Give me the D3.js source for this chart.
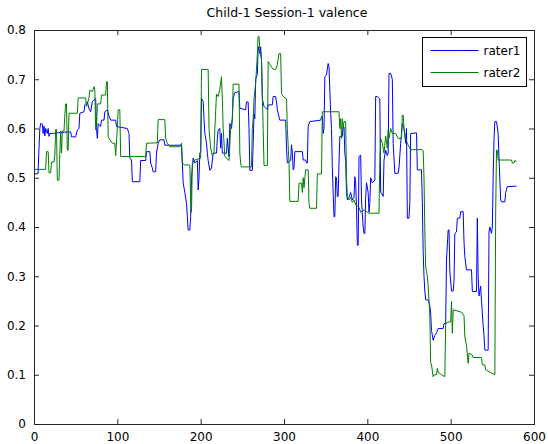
<!DOCTYPE html>
<html>
<head>
<meta charset="utf-8">
<script src="https://cdn.jsdelivr.net/npm/d3@7/dist/d3.min.js"></script>
<style>
  body { margin: 0; background: #fff; }
  text { font-family: "DejaVu Sans", sans-serif; fill: #000; }
</style>
</head>
<body>
<svg id="chart" width="548" height="444"></svg>
<script>
// chart data ([frame, valence] breakpoints)
const title = 'Child-1 Session-1 valence'
const seriesNames = ['rater1', 'rater2']
const seriesColors = ['#0000ff', '#008000']
const xTicks = [0, 100, 200, 300, 400, 500, 600]
const yTicks = [0, 0.1, 0.2, 0.3, 0.4, 0.5, 0.6, 0.7, 0.8]

const rater1 = [
  [0, 0.508], [4.8, 0.508], [6, 0.56], [7, 0.6], [8, 0.61], [10, 0.609], [11, 0.59], [12, 0.605], [13, 0.585], [14, 0.6],
  [16, 0.59], [17, 0.6], [18, 0.584], [19, 0.59], [22, 0.59], [40, 0.593], [44, 0.593], [45, 0.583], [50, 0.583], [52, 0.597],
  [54, 0.6], [55, 0.631], [60, 0.634], [61, 0.648], [64, 0.654], [66, 0.64], [68, 0.634], [70, 0.655], [74, 0.661], [75, 0.6],
  [76, 0.58], [77, 0.61], [80, 0.604], [81, 0.617], [84, 0.617], [85, 0.634], [88, 0.638], [90, 0.625], [92, 0.617], [98, 0.617],
  [99, 0.604], [112, 0.6], [114, 0.59], [115, 0.54], [117, 0.536], [118, 0.492], [127, 0.492], [128, 0.535], [134, 0.535], [135, 0.553],
  [139, 0.553], [140, 0.53], [142, 0.52], [143, 0.512], [146, 0.512], [147, 0.55], [149, 0.57], [151, 0.577], [156, 0.577], [157, 0.566],
  [177, 0.566], [178, 0.53], [179, 0.49], [181, 0.47], [183, 0.448], [184, 0.421], [185, 0.394], [187, 0.394], [188, 0.421], [189, 0.5],
  [190, 0.52], [191, 0.54], [193, 0.53], [196, 0.535], [197, 0.475], [198, 0.5], [199, 0.55], [200, 0.553], [201, 0.661], [203, 0.655],
  [204, 0.62], [205, 0.59], [207, 0.57], [208, 0.55], [209, 0.535], [211, 0.515], [213, 0.52], [215, 0.55], [219, 0.55], [220, 0.58],
  [221, 0.597], [223, 0.6], [224, 0.56], [225, 0.59], [226, 0.55], [231, 0.55], [232, 0.58], [234, 0.543], [235, 0.61], [237, 0.6],
  [238, 0.62], [239, 0.661], [241, 0.673], [246, 0.675], [247, 0.641], [254, 0.638], [255, 0.654], [257, 0.654], [258, 0.6], [259, 0.515],
  [262, 0.515], [263, 0.57], [264, 0.63], [265, 0.62], [266, 0.7], [268, 0.71], [269, 0.766], [271, 0.752], [272, 0.766], [273, 0.74],
  [274, 0.66], [276, 0.645], [280, 0.638], [281, 0.648], [286, 0.648], [287, 0.665], [290, 0.665], [291, 0.654], [292, 0.638], [295, 0.617],
  [302, 0.617], [303, 0.56], [304, 0.53], [308, 0.535], [309, 0.567], [310, 0.55], [311, 0.516], [312, 0.52], [313, 0.553], [322, 0.553],
  [323, 0.536], [326, 0.536], [327, 0.53], [328, 0.53], [329, 0.604], [331, 0.614], [344, 0.617], [345, 0.624], [346, 0.624], [347, 0.59],
  [348, 0.6], [349, 0.705], [351, 0.709], [353, 0.732], [354, 0.725], [356, 0.631], [357, 0.6], [358, 0.52], [359, 0.47], [360, 0.421],
  [361, 0.421], [362, 0.502], [363, 0.5], [364, 0.462], [365, 0.462], [366, 0.53], [367, 0.584], [370, 0.584], [371, 0.603], [372, 0.603],
  [373, 0.55], [374, 0.535], [375, 0.47], [376, 0.455], [378, 0.46], [380, 0.47], [382, 0.455], [384, 0.46], [385, 0.502], [386, 0.49],
  [387, 0.44], [388, 0.363], [389, 0.363], [390, 0.543], [392, 0.546], [393, 0.455], [395, 0.4], [396, 0.387], [397, 0.387], [398, 0.46],
  [399, 0.49], [401, 0.47], [402, 0.43], [403, 0.45], [404, 0.5], [406, 0.49], [409, 0.495], [410, 0.665], [412, 0.665], [415, 0.66],
  [416, 0.47], [417, 0.469], [419, 0.462], [420, 0.536], [422, 0.556], [424, 0.545], [425, 0.55], [426, 0.712], [428, 0.712], [430, 0.7],
  [431, 0.57], [433, 0.509], [437, 0.509], [438, 0.52], [440, 0.57], [442, 0.61], [444, 0.6], [446, 0.57], [447, 0.6], [448, 0.418],
  [450, 0.418], [451, 0.45], [452, 0.59], [459, 0.591], [460, 0.516], [465, 0.516], [466, 0.45], [467, 0.35], [468, 0.3], [469, 0.27],
  [470, 0.252], [473, 0.252], [475, 0.24], [476, 0.225], [477, 0.19], [479, 0.17], [481, 0.18], [483, 0.185], [485, 0.194], [491, 0.194],
  [492, 0.204], [494, 0.204], [495, 0.333], [497, 0.394], [498, 0.394], [499, 0.31], [501, 0.27], [503, 0.27], [504, 0.29], [505, 0.387],
  [507, 0.39], [508, 0.418], [511, 0.418], [512, 0.431], [515, 0.431], [516, 0.37], [517, 0.34], [519, 0.313], [525, 0.313], [526, 0.269],
  [531, 0.269], [532, 0.418], [533, 0.3], [534, 0.26], [536, 0.28], [537, 0.25], [539, 0.2], [540, 0.18], [541, 0.15], [545, 0.15],
  [546, 0.39], [547, 0.4], [549, 0.387], [550, 0.4], [551, 0.5], [552, 0.577], [553, 0.614], [555, 0.614], [557, 0.59], [558, 0.54],
  [560, 0.455], [561, 0.451], [565, 0.451], [566, 0.47], [568, 0.482], [579, 0.483]
]

const rater2 = [
  [0, 0.517], [14, 0.517], [15, 0.553], [17, 0.553], [18, 0.51], [20, 0.51], [21, 0.532], [24, 0.532], [25, 0.546], [26, 0.598],
  [27, 0.598], [28, 0.495], [30, 0.495], [31, 0.55], [32, 0.595], [33, 0.55], [34, 0.595], [36, 0.595], [37, 0.627], [38, 0.65],
  [39, 0.65], [40, 0.556], [41, 0.556], [42, 0.631], [52, 0.631], [53, 0.662], [62, 0.662], [63, 0.645], [64, 0.65], [66, 0.662],
  [67, 0.678], [70, 0.675], [72, 0.685], [73, 0.678], [74, 0.597], [75, 0.6], [76, 0.65], [80, 0.65], [81, 0.668], [86, 0.668],
  [87, 0.695], [88, 0.695], [89, 0.584], [90, 0.58], [94, 0.57], [97, 0.57], [98, 0.545], [100, 0.6], [101, 0.638], [103, 0.638],
  [104, 0.543], [134, 0.543], [135, 0.57], [148, 0.571], [149, 0.618], [157, 0.618], [158, 0.58], [160, 0.57], [163, 0.563], [175, 0.563],
  [177, 0.57], [178, 0.53], [181, 0.526], [187, 0.526], [188, 0.455], [189, 0.43], [190, 0.53], [193, 0.536], [200, 0.54], [201, 0.72],
  [209, 0.72], [210, 0.6], [212, 0.56], [214, 0.545], [216, 0.55], [217, 0.6], [219, 0.67], [221, 0.665], [223, 0.68], [225, 0.705],
  [226, 0.66], [227, 0.6], [229, 0.543], [234, 0.535], [236, 0.6], [238, 0.62], [239, 0.69], [246, 0.69], [247, 0.55], [248, 0.53],
  [249, 0.522], [261, 0.522], [262, 0.6], [263, 0.62], [264, 0.66], [266, 0.692], [268, 0.75], [269, 0.787], [270, 0.787], [271, 0.76],
  [273, 0.74], [275, 0.6], [276, 0.525], [280, 0.525], [281, 0.736], [283, 0.73], [287, 0.72], [290, 0.72], [292, 0.73], [294, 0.752],
  [296, 0.752], [297, 0.671], [299, 0.665], [303, 0.66], [304, 0.6], [306, 0.53], [307, 0.452], [317, 0.452], [318, 0.489], [321, 0.489],
  [322, 0.47], [323, 0.5], [324, 0.48], [325, 0.5], [326, 0.516], [329, 0.516], [330, 0.448], [331, 0.438], [339, 0.438], [340, 0.508],
  [345, 0.508], [346, 0.634], [366, 0.634], [367, 0.6], [368, 0.62], [369, 0.58], [370, 0.62], [371, 0.6], [372, 0.614], [374, 0.614],
  [375, 0.499], [376, 0.462], [378, 0.455], [380, 0.46], [382, 0.45], [384, 0.455], [386, 0.445], [390, 0.44], [392, 0.43], [396, 0.435],
  [400, 0.43], [402, 0.428], [414, 0.428], [415, 0.536], [416, 0.58], [418, 0.57], [420, 0.55], [422, 0.585], [424, 0.56], [425, 0.597],
  [426, 0.58], [428, 0.6], [430, 0.59], [434, 0.59], [437, 0.58], [441, 0.58], [442, 0.627], [443, 0.627], [444, 0.6], [446, 0.58],
  [448, 0.57], [450, 0.563], [452, 0.557], [466, 0.557], [467, 0.555], [468, 0.5], [469, 0.39], [470, 0.32], [472, 0.3], [473, 0.28],
  [475, 0.22], [476, 0.125], [477, 0.12], [479, 0.096], [480, 0.1], [483, 0.1], [484, 0.113], [485, 0.105], [489, 0.1], [493, 0.096],
  [494, 0.202], [496, 0.207], [500, 0.207], [501, 0.249], [502, 0.184], [503, 0.232], [513, 0.227], [516, 0.22], [517, 0.177], [519, 0.16],
  [521, 0.123], [522, 0.144], [526, 0.14], [527, 0.135], [537, 0.135], [538, 0.12], [541, 0.12], [542, 0.11], [553, 0.1], [554, 0.428],
  [555, 0.556], [556, 0.556], [557, 0.536], [573, 0.536], [574, 0.53], [576, 0.53], [577, 0.535], [579, 0.533]
]

const series = [rater1, rater2]

// axes box in page pixels
const boxLeft = 34, boxRight = 534, boxTop = 30, boxBottom = 424

const svg = d3.select('#chart')

const x = d3.scaleLinear().domain([0, 600]).range([boxLeft, boxRight])
const y = d3.scaleLinear().domain([0, 0.8]).range([boxBottom, boxTop])

// data lines, clipped to the axes box
svg.append('clipPath').attr('id', 'clip')
  .append('rect')
  .attr('x', boxLeft).attr('y', boxTop)
  .attr('width', boxRight - boxLeft).attr('height', boxBottom - boxTop)

const line = d3.line()
  .x(d => x(d[0]))
  .y(d => y(d[1]))

svg.append('g').attr('clip-path', 'url(#clip)')
  .selectAll('path')
  .data(series)
  .enter().append('path')
  .attr('d', line)
  .attr('fill', 'none')
  .attr('stroke', (d, i) => seriesColors[i])
  .attr('stroke-width', 1)

// matlab style axes: ticks point inward, mirrored on top and right
const fmtY = d => d === 0 ? '0' : d3.format('.1f')(d)

function styleAxis (g) {
  g.select('.domain').remove()
  g.selectAll('.tick line').attr('stroke', '#262626')
  g.selectAll('.tick text')
    .style('font-family', '"DejaVu Sans", sans-serif')
    .style('font-size', '12px')
    .attr('fill', '#000')
}

svg.append('g')
  .attr('transform', 'translate(0,' + boxBottom + ')')
  .call(d3.axisBottom(x).tickValues(xTicks).tickFormat(d3.format('d')).tickSizeInner(-5).tickSizeOuter(0).tickPadding(8))
  .call(styleAxis)

svg.append('g')
  .attr('transform', 'translate(0,' + boxTop + ')')
  .call(d3.axisTop(x).tickValues(xTicks).tickFormat('').tickSizeInner(-5).tickSizeOuter(0))
  .call(styleAxis)

svg.append('g')
  .attr('transform', 'translate(' + boxLeft + ',0)')
  .call(d3.axisLeft(y).tickValues(yTicks).tickFormat(fmtY).tickSizeInner(-5).tickSizeOuter(0).tickPadding(8))
  .call(styleAxis)

svg.append('g')
  .attr('transform', 'translate(' + boxRight + ',0)')
  .call(d3.axisRight(y).tickValues(yTicks).tickFormat('').tickSizeInner(-5).tickSizeOuter(0))
  .call(styleAxis)

// axes box
svg.append('rect')
  .attr('x', boxLeft + 0.5).attr('y', boxTop + 0.5)
  .attr('width', boxRight - boxLeft).attr('height', boxBottom - boxTop)
  .attr('fill', 'none')
  .attr('stroke', '#262626')
  .attr('stroke-width', 1)

// title
svg.append('text')
  .attr('x', (boxLeft + boxRight) / 2 + 3)
  .attr('y', 17)
  .attr('text-anchor', 'middle')
  .style('font-size', '12.5px')
  .text(title)

// legend
const legend = svg.append('g').attr('transform', 'translate(422.5,37.5)')
legend.append('rect')
  .attr('width', 104).attr('height', 49)
  .attr('fill', '#fff')
  .attr('stroke', '#000')

seriesNames.forEach(function (name, i) {
  const ly = 13 + i * 22
  legend.append('line')
    .attr('x1', 8).attr('x2', 56)
    .attr('y1', ly).attr('y2', ly)
    .attr('stroke', seriesColors[i])
    .attr('stroke-width', 1)
  legend.append('text')
    .attr('x', 61).attr('y', ly + 4.5)
    .style('font-size', '12px')
    .text(name)
})
</script>
</body>
</html>
